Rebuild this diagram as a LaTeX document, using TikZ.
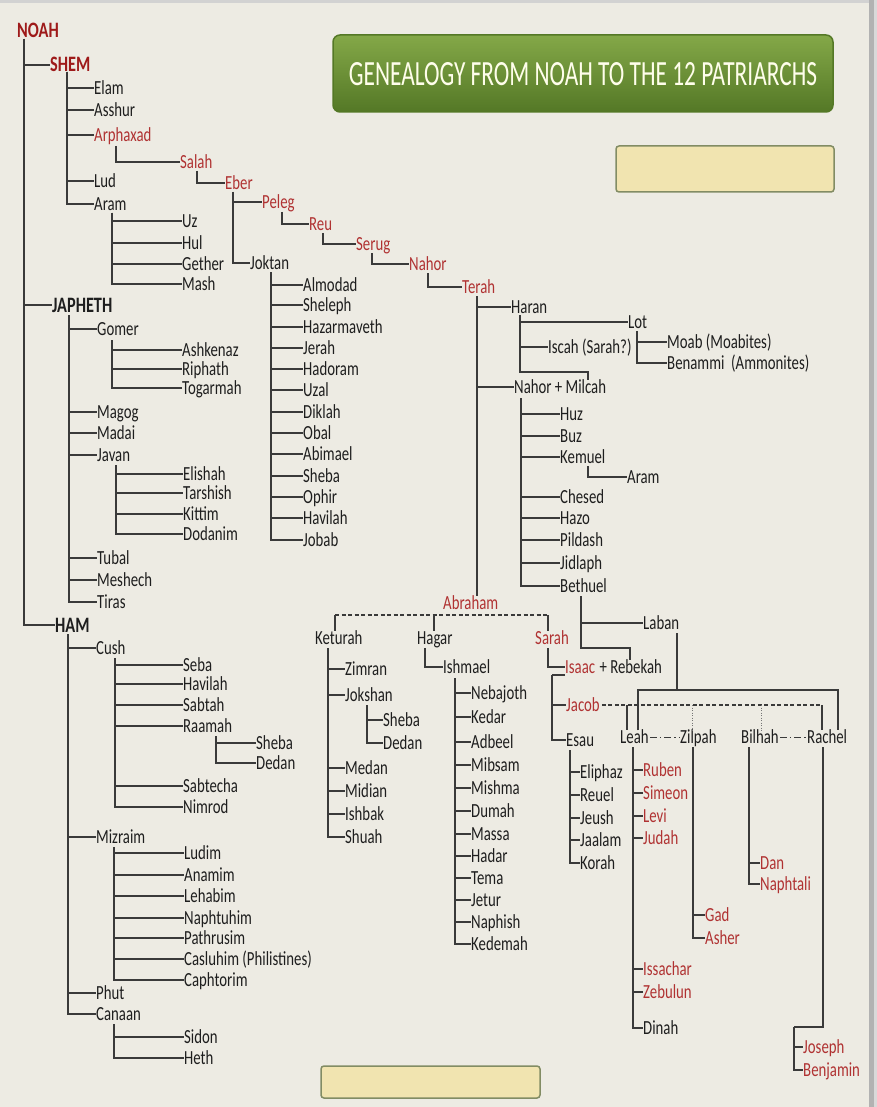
\documentclass[tikz,border=0pt]{standalone}
\usepackage{fontspec}
\setmainfont{Carlito}[FakeStretch=0.74]
\usetikzlibrary{positioning}

\definecolor{paper}{RGB}{237,235,227}
\definecolor{ink}{RGB}{30,30,30}
\definecolor{kin}{RGB}{176,50,50}
\definecolor{kinbold}{RGB}{158,26,26}
\definecolor{wire}{RGB}{58,58,58}
\definecolor{leaf}{RGB}{132,168,72}
\definecolor{leafdark}{RGB}{84,120,38}
\definecolor{straw}{RGB}{241,228,176}
\definecolor{strawedge}{RGB}{130,140,100}

\tikzset{
	nm/.style={anchor=west, inner sep=0pt, text height=13pt, text depth=0pt, text=ink, font=\fontsize{20}{22}\selectfont},
	rd/.style={nm, text=kin},
	hd/.style={nm, text height=14pt, font=\fontsize{22}{24}\selectfont\bfseries},
	ln/.style={draw=wire, line width=1.4pt},
	dsh/.style={ln, dash pattern=on 4pt off 2.5pt},
	dtt/.style={draw=wire!70, line width=1pt, dash pattern=on 1pt off 1.5pt},
	dd/.style={ln, line width=1pt, dash pattern=on 7pt off 3pt on 1.5pt off 3pt}
}

\begin{document}
\begin{tikzpicture}[x=1pt, y=-1pt]
		\useasboundingbox (0,0) rectangle (877,1107);
		\fill[paper] (0,0) rectangle (877,1107);
		\fill[gray!35] (0,0) rectangle (877,3);
		\fill[gray!60] (869,0) rectangle (874,1107);
		\fill[gray!30] (874,0) rectangle (877,1107);
		
		% title and empty boxes
		\draw[leafdark, line width=1.5pt, rounded corners=7pt, top color=leaf, bottom color=leafdark] (333,35) rectangle (833,112);
		\node[text=white!92!yellow] (title) at (583,74) {\resizebox{468pt}{23pt}{GENEALOGY FROM NOAH TO THE 12 PATRIARCHS}};
		\draw[strawedge, line width=1.5pt, fill=straw, rounded corners=3pt] (616,146) rectangle (834,192);
		\draw[strawedge, line width=1.5pt, fill=straw, rounded corners=3pt] (321,1066) rectangle (540,1098);
		
		% sons of Noah
		\node[hd, text=kinbold] (noah) at (17,31) {NOAH};
		\node[hd, text=kinbold] (shem) at (50,65) {SHEM};
		\node[hd] (japheth) at (52,305) {JAPHETH};
		\node[hd] (ham) at (55,625) {HAM};
		\coordinate (noahB) at (24,39);
		\foreach \n in {shem,japheth,ham} \draw[ln] (noahB) |- (\n.west);
		
		% Shem
		\coordinate (shemB) at (67,72);
		\foreach \n/\y/\t/\c in {elam/88/Elam/ink, asshur/110/Asshur/ink, arphaxad/135/Arphaxad/kin, lud/181/Lud/ink, aram/204/Aram/ink}{
			\node[nm, text=\c] (\n) at (94,\y) {\t};
			\draw[ln] (shemB) |- (\n.west);
		}
		\coordinate (aramB) at (112,213);
		\foreach \n/\y/\t in {uz/221/Uz, hul/243/Hul, gether/264/Gether, mash/284/Mash}{
			\node[nm] (\n) at (182,\y) {\t};
			\draw[ln] (aramB) |- (\n.west);
		}
		
		\node[rd] (salah) at (180,162) {Salah};
		\node[rd] (eber) at (225,183) {Eber};
		\node[rd] (peleg) at (262,202) {Peleg};
		\node[nm] (joktan) at (250,263) {Joktan};
		\node[rd] (reu) at (309,224) {Reu};
		\node[rd] (serug) at (356,244) {Serug};
		\node[rd] (nahor) at (409,264) {Nahor};
		\node[rd] (terah) at (462,287) {Terah};
		\draw[ln] (116,146) |- (salah.west);
		\draw[ln] (197,171) |- (eber.west);
		\draw[ln] (233,192) |- (peleg.west);
		\draw[ln] (233,192) |- (joktan.west);
		\draw[ln] (282,212) |- (reu.west);
		\draw[ln] (323,233) |- (serug.west);
		\draw[ln] (372,253) |- (nahor.west);
		\draw[ln] (428,273) |- (terah.west);
		
		\coordinate (joktanB) at (271,272);
		\foreach \n/\y/\t in {almodad/285/Almodad, sheleph/305/Sheleph, hazarmaveth/327/Hazarmaveth, jerah/348/Jerah, hadoram/369/Hadoram, uzal/390/Uzal, diklah/412/Diklah, obal/433/Obal, abimael/454/Abimael, shebaK/476/Sheba, ophir/497/Ophir, havilahK/518/Havilah, jobab/540/Jobab}{
			\node[nm] (\n) at (303,\y) {\t};
			\draw[ln] (joktanB) |- (\n.west);
		}
		
		% Terah
		\node[nm] (haran) at (511,307) {Haran};
		\node[nm] (nahorM) at (514,387) {Nahor + Milcah};
		\node[rd] (abraham) at (443,603) {Abraham};
		\coordinate (terahB) at (477,296);
		\draw[ln] (terahB) |- (haran.west);
		\draw[ln] (terahB) |- (nahorM.west);
		\draw[ln] (terahB) -- (terahB |- abraham.north);
		
		\node[nm] (lot) at (628,322) {Lot};
		\node[nm] (iscah) at (548,347) {Iscah (Sarah?)};
		\coordinate (haranB) at (520,315);
		\coordinate (milcahT) at (588,372);
		\draw[ln] (haranB) |- (lot.west);
		\draw[ln] (haranB) |- (iscah.west);
		\draw[ln] (haranB) |- (milcahT) -- (milcahT |- nahorM.north);
		\node[nm] (moab) at (667,342) {Moab (Moabites)};
		\node[nm] (benammi) at (667,363) {Benammi~ (Ammonites)};
		\coordinate (lotB) at (637,331);
		\draw[ln] (lotB) |- (moab.west);
		\draw[ln] (lotB) |- (benammi.west);
		
		\coordinate (milcahB) at (521,398);
		\foreach \n/\y/\t in {huz/414/Huz, buz/436/Buz, kemuel/457/Kemuel, chesed/497/Chesed, hazo/518/Hazo, pildash/540/Pildash, jidlaph/563/Jidlaph, bethuel/586/Bethuel}{
			\node[nm] (\n) at (560,\y) {\t};
			\draw[ln] (milcahB) |- (\n.west);
		}
		\node[nm] (aramK) at (627,477) {Aram};
		\draw[ln] (588,466) |- (aramK.west);
		
		\node[nm] (laban) at (643,623) {Laban};
		\node[rd] (isaac) at (565,667) {Isaac};
		\node[nm, right=4pt of isaac] (rebekah) {+ Rebekah};
		\coordinate (bethuelB) at (581,596);
		\coordinate (rebekahT) at (630,648);
		\draw[ln] (bethuelB) |- (laban.west);
		\draw[ln] (bethuelB) |- (rebekahT) -- (rebekahT |- rebekah.north);
		
		% Abraham
		\node[nm] (keturah) at (315,638) {Keturah};
		\node[nm] (hagar) at (417,638) {Hagar};
		\node[rd] (sarah) at (535,638) {Sarah};
		\coordinate (abrL) at (335,615);
		\coordinate (abrH) at (434,615);
		\coordinate (abrR) at (548,615);
		\draw[dsh] (abrL) -- (abrR);
		\foreach \c/\n in {abrL/keturah, abrH/hagar, abrR/sarah} \draw[ln] (\c) -- (\c |- \n.north);
		
		\coordinate (keturahB) at (328,648);
		\foreach \n/\y/\t in {zimran/669/Zimran, jokshan/695/Jokshan, medan/768/Medan, midian/791/Midian, ishbak/814/Ishbak, shuah/837/Shuah}{
			\node[nm] (\n) at (345,\y) {\t};
			\draw[ln] (keturahB) |- (\n.west);
		}
		\coordinate (jokshanB) at (367,705);
		\foreach \n/\y/\t in {shebaJ/720/Sheba, dedanJ/743/Dedan}{
			\node[nm] (\n) at (383,\y) {\t};
			\draw[ln] (jokshanB) |- (\n.west);
		}
		
		\node[nm] (ishmael) at (443,667) {Ishmael};
		\draw[ln] (425,648) |- (ishmael.west);
		\coordinate (ishmaelB) at (455,678);
		\foreach \n/\y/\t in {nebajoth/693/Nebajoth, kedar/717/Kedar, adbeel/742/Adbeel, mibsam/765/Mibsam, mishma/788/Mishma, dumah/811/Dumah, massa/834/Massa, hadar/856/Hadar, tema/878/Tema, jetur/900/Jetur, naphish/922/Naphish, kedemah/944/Kedemah}{
			\node[nm] (\n) at (471,\y) {\t};
			\draw[ln] (ishmaelB) |- (\n.west);
		}
		
		\draw[ln] (548,648) |- (isaac.west);
		
		% Isaac
		\node[rd] (jacob) at (566,705) {Jacob};
		\node[nm] (esau) at (566,740) {Esau};
		\coordinate (isaacB) at (552,675);
		\draw[ln] (isaacB -| isaac.west) -- (isaacB);
		\draw[ln] (isaacB) |- (jacob.west);
		\draw[ln] (isaacB) |- (esau.west);
		
		\coordinate (esauB) at (570,750);
		\foreach \n/\y/\t in {eliphaz/772/Eliphaz, reuel/795/Reuel, jeush/818/Jeush, jaalam/840/Jaalam, korah/863/Korah}{
			\node[nm] (\n) at (580,\y) {\t};
			\draw[ln] (esauB) |- (\n.west);
		}
		
		% Jacob and his wives
		\node[nm] (leah) at (620,737) {Leah};
		\node[nm] (zilpah) at (680,737) {Zilpah};
		\node[nm] (bilhah) at (741,737) {Bilhah};
		\node[nm] (rachel) at (807,737) {Rachel};
		\draw[dd] ([xshift=1pt]leah.east) -- ([xshift=-1pt]zilpah.west);
		\draw[dd] ([xshift=1pt]bilhah.east) -- ([xshift=-1pt]rachel.west);
		
		\coordinate (jacobL) at (627,705);
		\coordinate (jacobZ) at (692,705);
		\coordinate (jacobBh) at (761,705);
		\coordinate (jacobR) at (822,705);
		\draw[dsh] ([xshift=2pt]jacob.east) -- (jacobR);
		\draw[ln] (jacobR) -- (jacobR |- rachel.north);
		\draw[ln] (jacobL) -- (jacobL |- leah.north);
		\draw[dtt] (jacobZ) -- (jacobZ |- zilpah.north);
		\draw[dtt] (jacobBh) -- (jacobBh |- bilhah.north);
		
		\coordinate (labanB) at (677,633);
		\coordinate (labanL) at (638,690);
		\coordinate (labanR) at (838,690);
		\draw[ln] (labanB) -- (labanB |- labanL);
		\draw[ln] (labanL |- leah.north) -- (labanL) -- (labanR) -- (labanR |- rachel.north);
		
		\coordinate (leahB) at (633,747);
		\foreach \n/\y/\t/\c in {ruben/770/Ruben/kin, simeon/793/Simeon/kin, levi/816/Levi/kin, judah/838/Judah/kin, issachar/969/Issachar/kin, zebulun/992/Zebulun/kin, dinah/1028/Dinah/ink}{
			\node[nm, text=\c] (\n) at (643,\y) {\t};
			\draw[ln] (leahB) |- (\n.west);
		}
		\coordinate (zilpahB) at (693,747);
		\foreach \n/\y/\t in {gad/915/Gad, asher/938/Asher}{
			\node[rd] (\n) at (705,\y) {\t};
			\draw[ln] (zilpahB) |- (\n.west);
		}
		\coordinate (bilhahB) at (749,747);
		\foreach \n/\y/\t in {dan/863/Dan, naphtali/884/Naphtali}{
			\node[rd] (\n) at (760,\y) {\t};
			\draw[ln] (bilhahB) |- (\n.west);
		}
		\coordinate (rachelB) at (823,747);
		\coordinate (rachelK) at (794,1027);
		\draw[ln] (rachelB) |- (rachelK);
		\foreach \n/\y/\t in {joseph/1047/Joseph, benjamin/1070/Benjamin}{
			\node[rd] (\n) at (803,\y) {\t};
			\draw[ln] (rachelK) |- (\n.west);
		}
		
		% Japheth
		\coordinate (japhethB) at (69,315);
		\foreach \n/\y/\t in {gomer/329/Gomer, magog/412/Magog, madai/433/Madai, javan/455/Javan, tubal/558/Tubal, meshech/580/Meshech, tiras/602/Tiras}{
			\node[nm] (\n) at (97,\y) {\t};
			\draw[ln] (japhethB) |- (\n.west);
		}
		\coordinate (gomerB) at (112,340);
		\foreach \n/\y/\t in {ashkenaz/350/Ashkenaz, riphath/369/Riphath, togarmah/388/Togarmah}{
			\node[nm] (\n) at (182,\y) {\t};
			\draw[ln] (gomerB) |- (\n.west);
		}
		\coordinate (javanB) at (116,465);
		\foreach \n/\y/\t in {elishah/474/Elishah, tarshish/493/Tarshish, kittim/514/Kittim, dodanim/534/Dodanim}{
			\node[nm] (\n) at (183,\y) {\t};
			\draw[ln] (javanB) |- (\n.west);
		}
		
		% Ham
		\coordinate (hamB) at (68,634);
		\foreach \n/\y/\t in {cush/648/Cush, mizraim/837/Mizraim, phut/993/Phut, canaan/1014/Canaan}{
			\node[nm] (\n) at (96,\y) {\t};
			\draw[ln] (hamB) |- (\n.west);
		}
		\coordinate (cushB) at (115,658);
		\foreach \n/\y/\t in {seba/665/Seba, havilahC/684/Havilah, sabtah/705/Sabtah, raamah/726/Raamah, sabtecha/786/Sabtecha, nimrod/807/Nimrod}{
			\node[nm] (\n) at (183,\y) {\t};
			\draw[ln] (cushB) |- (\n.west);
		}
		\coordinate (raamahB) at (216,736);
		\foreach \n/\y/\t in {shebaR/743/Sheba, dedanR/763/Dedan}{
			\node[nm] (\n) at (256,\y) {\t};
			\draw[ln] (raamahB) |- (\n.west);
		}
		\coordinate (mizraimB) at (114,847);
		\foreach \n/\y/\t in {ludim/853/Ludim, anamim/875/Anamim, lehabim/896/Lehabim, naphtuhim/918/Naphtuhim, pathrusim/938/Pathrusim, casluhim/959/Casluhim (Philistines), caphtorim/980/Caphtorim}{
			\node[nm] (\n) at (184,\y) {\t};
			\draw[ln] (mizraimB) |- (\n.west);
		}
		\coordinate (canaanB) at (114,1024);
		\foreach \n/\y/\t in {sidon/1037/Sidon, heth/1058/Heth}{
			\node[nm] (\n) at (184,\y) {\t};
			\draw[ln] (canaanB) |- (\n.west);
		}
\end{tikzpicture}
\end{document}
